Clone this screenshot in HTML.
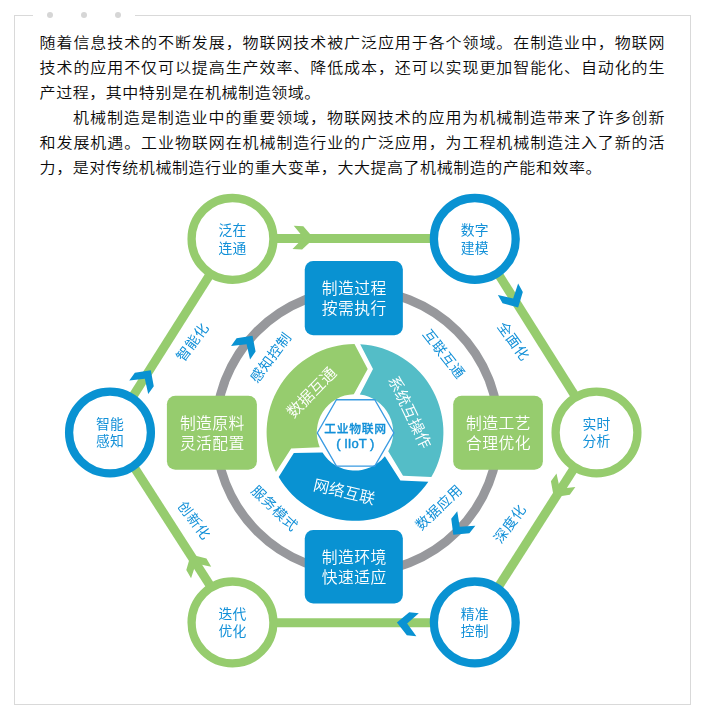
<!DOCTYPE html>
<html lang="zh-CN">
<head>
<meta charset="utf-8">
<title>工业物联网</title>
<style>
html,body{margin:0;padding:0;background:#fff;}
body{width:705px;height:711px;position:relative;overflow:hidden;font-family:"Liberation Sans", "Noto Sans CJK SC", sans-serif;}
.frame{position:absolute;left:14px;top:15px;width:677px;height:690px;box-sizing:border-box;border:1px solid #d9d9d9;}
.dots{position:absolute;left:33px;top:10px;width:102px;height:10px;background:#fff;}
.dots i{position:absolute;top:2px;width:6px;height:6px;border-radius:50%;background:#d6d6d6;}
.txt{position:absolute;left:39.6px;top:30px;width:625.5px;color:#0a0a0a;font-weight:350;font-size:16px;line-height:25px;letter-spacing:0.544px;}
.ln{height:25px;white-space:nowrap;transform:scaleY(0.91);transform-origin:50% 50%;}
.ln.j{text-align:justify;text-align-last:justify;}
.ln.i{padding-left:33.5px;}
svg{position:absolute;left:0;top:0;will-change:transform;}
svg text{font-family:"Liberation Sans", "Noto Sans CJK SC", sans-serif;text-anchor:middle;dominant-baseline:central;}
.nl{font-size:13.8px;letter-spacing:0.3px;fill:#1290d8;font-weight:400;}
.bl{font-size:14px;letter-spacing:0.6px;fill:#1290d8;font-weight:400;}
.rl{font-size:15.8px;letter-spacing:0.4px;fill:#fff;font-weight:350;}
.sl{font-size:15.7px;fill:#fff;font-weight:350;}
.ct{font-size:11.8px;letter-spacing:0.7px;fill:#1290d8;font-weight:500;stroke:#1290d8;stroke-width:0.3px;}
.ce{font-size:13px;fill:#1290d8;font-weight:400;stroke:#1290d8;stroke-width:0.45px;}
</style>
</head>
<body>
<div class="frame"></div>
<div class="dots"><i style="left:14px"></i><i style="left:48px"></i><i style="left:82px"></i></div>
<div class="txt">
<div class="ln j">随着信息技术的不断发展，物联网技术被广泛应用于各个领域。在制造业中，物联网</div>
<div class="ln j">技术的应用不仅可以提高生产效率、降低成本，还可以实现更加智能化、自动化的生</div>
<div class="ln">产过程，其中特别是在机械制造领域。</div>
<div class="ln j i">机械制造是制造业中的重要领域，物联网技术的应用为机械制造带来了许多创新</div>
<div class="ln j">和发展机遇。工业物联网在机械制造行业的广泛应用，为工程机械制造注入了新的活</div>
<div class="ln">力，是对传统机械制造行业的重大变革，大大提高了机械制造的产能和效率。</div>
</div>
<svg width="705" height="711" viewBox="0 0 705 711">
<line x1="232.5" y1="238.4" x2="474.8" y2="238.4" stroke="#96cc6e" stroke-width="9"/>
<line x1="476.2" y1="238.9" x2="598.1" y2="432.5" stroke="#96cc6e" stroke-width="9"/>
<line x1="596.9" y1="432.5" x2="475.7" y2="622.4" stroke="#96cc6e" stroke-width="9"/>
<line x1="474.8" y1="622.8" x2="232.5" y2="622.8" stroke="#96cc6e" stroke-width="9"/>
<line x1="233.8" y1="622.4" x2="111.8" y2="432.5" stroke="#96cc6e" stroke-width="9"/>
<line x1="110" y1="432.5" x2="232.5" y2="238.9" stroke="#96cc6e" stroke-width="9"/>
<circle cx="357.2" cy="431.3" r="141.5" fill="none" stroke="#97989c" stroke-width="9"/>
<polygon points="0,0 -11.2,-11.6 -20.8,-11.6 -10.3,0 -20.8,11.6 -11.2,11.6" fill="#96cc6e" transform="translate(313.9 238.4) rotate(3)"/>
<polygon points="0,0 -11.2,-11.6 -20.8,-11.6 -10.3,0 -20.8,11.6 -11.2,11.6" fill="#0992d2" transform="translate(518.16 307.44) rotate(60.8)"/>
<polygon points="0,0 -11.2,-11.6 -20.8,-11.6 -10.3,0 -20.8,11.6 -11.2,11.6" fill="#96cc6e" transform="translate(553.84 497.15) rotate(125.55)"/>
<polygon points="0,0 -11.2,-11.6 -20.8,-11.6 -10.3,0 -20.8,11.6 -11.2,11.6" fill="#0992d2" transform="translate(396.9 622.5) rotate(186)"/>
<polygon points="0,0 -11.2,-11.6 -20.8,-11.6 -10.3,0 -20.8,11.6 -11.2,11.6" fill="#96cc6e" transform="translate(190.82 554.45) rotate(-119.72)"/>
<polygon points="0,0 -11.2,-11.6 -20.8,-11.6 -10.3,0 -20.8,11.6 -11.2,11.6" fill="#0992d2" transform="translate(150.78 370.33) rotate(-54.68)"/>
<polygon points="0,0 -11.2,-11.6 -20.8,-11.6 -10.3,0 -20.8,11.6 -11.2,11.6" fill="#0992d2" transform="translate(252.5 335.7) rotate(-55)"/>
<polygon points="0,0 -11.2,-11.6 -20.8,-11.6 -10.3,0 -20.8,11.6 -11.2,11.6" fill="#0992d2" transform="translate(453.3 534.7) rotate(128.7)"/>
<circle cx="232.5" cy="238.9" r="40.9" fill="#fff" stroke="#96cc6e" stroke-width="8.3"/>
<text class="nl" x="232.5" y="230.6">泛在</text>
<text class="nl" x="232.5" y="248">连通</text>
<circle cx="474.8" cy="238.9" r="40.9" fill="#fff" stroke="#0992d2" stroke-width="8.3"/>
<text class="nl" x="474.8" y="230.6">数字</text>
<text class="nl" x="474.8" y="248">建模</text>
<circle cx="596.5" cy="432.5" r="40.9" fill="#fff" stroke="#96cc6e" stroke-width="8.3"/>
<text class="nl" x="596.5" y="424.2">实时</text>
<text class="nl" x="596.5" y="441.6">分析</text>
<circle cx="474.8" cy="622.4" r="40.9" fill="#fff" stroke="#0992d2" stroke-width="8.3"/>
<text class="nl" x="474.8" y="614.1">精准</text>
<text class="nl" x="474.8" y="631.5">控制</text>
<circle cx="232.5" cy="622.4" r="40.9" fill="#fff" stroke="#96cc6e" stroke-width="8.3"/>
<text class="nl" x="232.5" y="614.1">迭代</text>
<text class="nl" x="232.5" y="631.5">优化</text>
<circle cx="110" cy="432.5" r="40.9" fill="#fff" stroke="#0992d2" stroke-width="8.3"/>
<text class="nl" x="110" y="424.2">智能</text>
<text class="nl" x="110" y="441.6">感知</text>
<rect x="304.75" y="261.1" width="98.1" height="74.1" rx="8.5" fill="#0992d2"/>
<text class="rl" x="354.2" y="288.65">制造过程</text>
<text class="rl" x="354.2" y="308.65">按需执行</text>
<rect x="166.9" y="395.8" width="90" height="73.9" rx="8.5" fill="#96cc6e"/>
<text class="rl" x="212.3" y="423.25">制造原料</text>
<text class="rl" x="212.3" y="443.25">灵活配置</text>
<rect x="453.2" y="395.8" width="89.7" height="73.9" rx="8.5" fill="#96cc6e"/>
<text class="rl" x="498.45" y="423.25">制造工艺</text>
<text class="rl" x="498.45" y="443.25">合理优化</text>
<rect x="304.75" y="530.1" width="98.1" height="73.4" rx="8.5" fill="#0992d2"/>
<text class="rl" x="354.2" y="557.3">制造环境</text>
<text class="rl" x="354.2" y="577.3">快速适应</text>
<path d="M275.98 472.02 A88.4 88.4 0 0 1 354.5 344 L367.7 369.1 L353.8 394.22 A38.2 38.2 0 0 0 319.78 447.19 L291.18 448.46 Z" fill="#96cc6e"/>
<path d="M360.2 344.15 A88.4 88.4 0 0 1 431.36 476.95 L403.02 475.83 L388.23 451.24 A38.2 38.2 0 0 0 359.8 394.5 L373 369.1 Z" fill="#54bdc7"/>
<path d="M428.32 481.78 A88.4 88.4 0 0 1 278.69 477.03 L293.83 453.05 L322.53 452.53 A38.2 38.2 0 0 0 384.86 456.22 L400.37 480.42 Z" fill="#0992d2"/>
<polygon points="393.9,432.9 374.75,466.07 336.45,466.07 317.3,432.9 336.45,399.73 374.75,399.73" fill="none" stroke="#3a9be2" stroke-width="1.3"/>
<text class="ct" x="355.5" y="429.0">工业物联网</text>
<text class="ce" x="355.3" y="443.8">( IIoT )</text>
<text class="sl" transform="translate(311.5 392.4) rotate(-45.5)">数据互通</text>
<text class="sl" transform="translate(409.7 412.2) rotate(64.4)">系统互操作</text>
<text class="sl" transform="translate(344.35 491.9) rotate(13.4)">网络互联</text>
<text class="bl" transform="translate(192.6 342) rotate(-53.3)">智能化</text>
<text class="bl" transform="translate(270.8 357.5) rotate(-53.1)">感知控制</text>
<text class="bl" transform="translate(444 354) rotate(51.7)">互联互通</text>
<text class="bl" transform="translate(513.6 341.3) rotate(54)">全面化</text>
<text class="bl" transform="translate(510 523.6) rotate(-53.7)">深度化</text>
<text class="bl" transform="translate(439 507.3) rotate(-43.7)">数据应用</text>
<text class="bl" transform="translate(274.7 508.3) rotate(43.7)">服务模式</text>
<text class="bl" transform="translate(194.3 520.5) rotate(52.9)">创新化</text>
</svg>
</body>
</html>
